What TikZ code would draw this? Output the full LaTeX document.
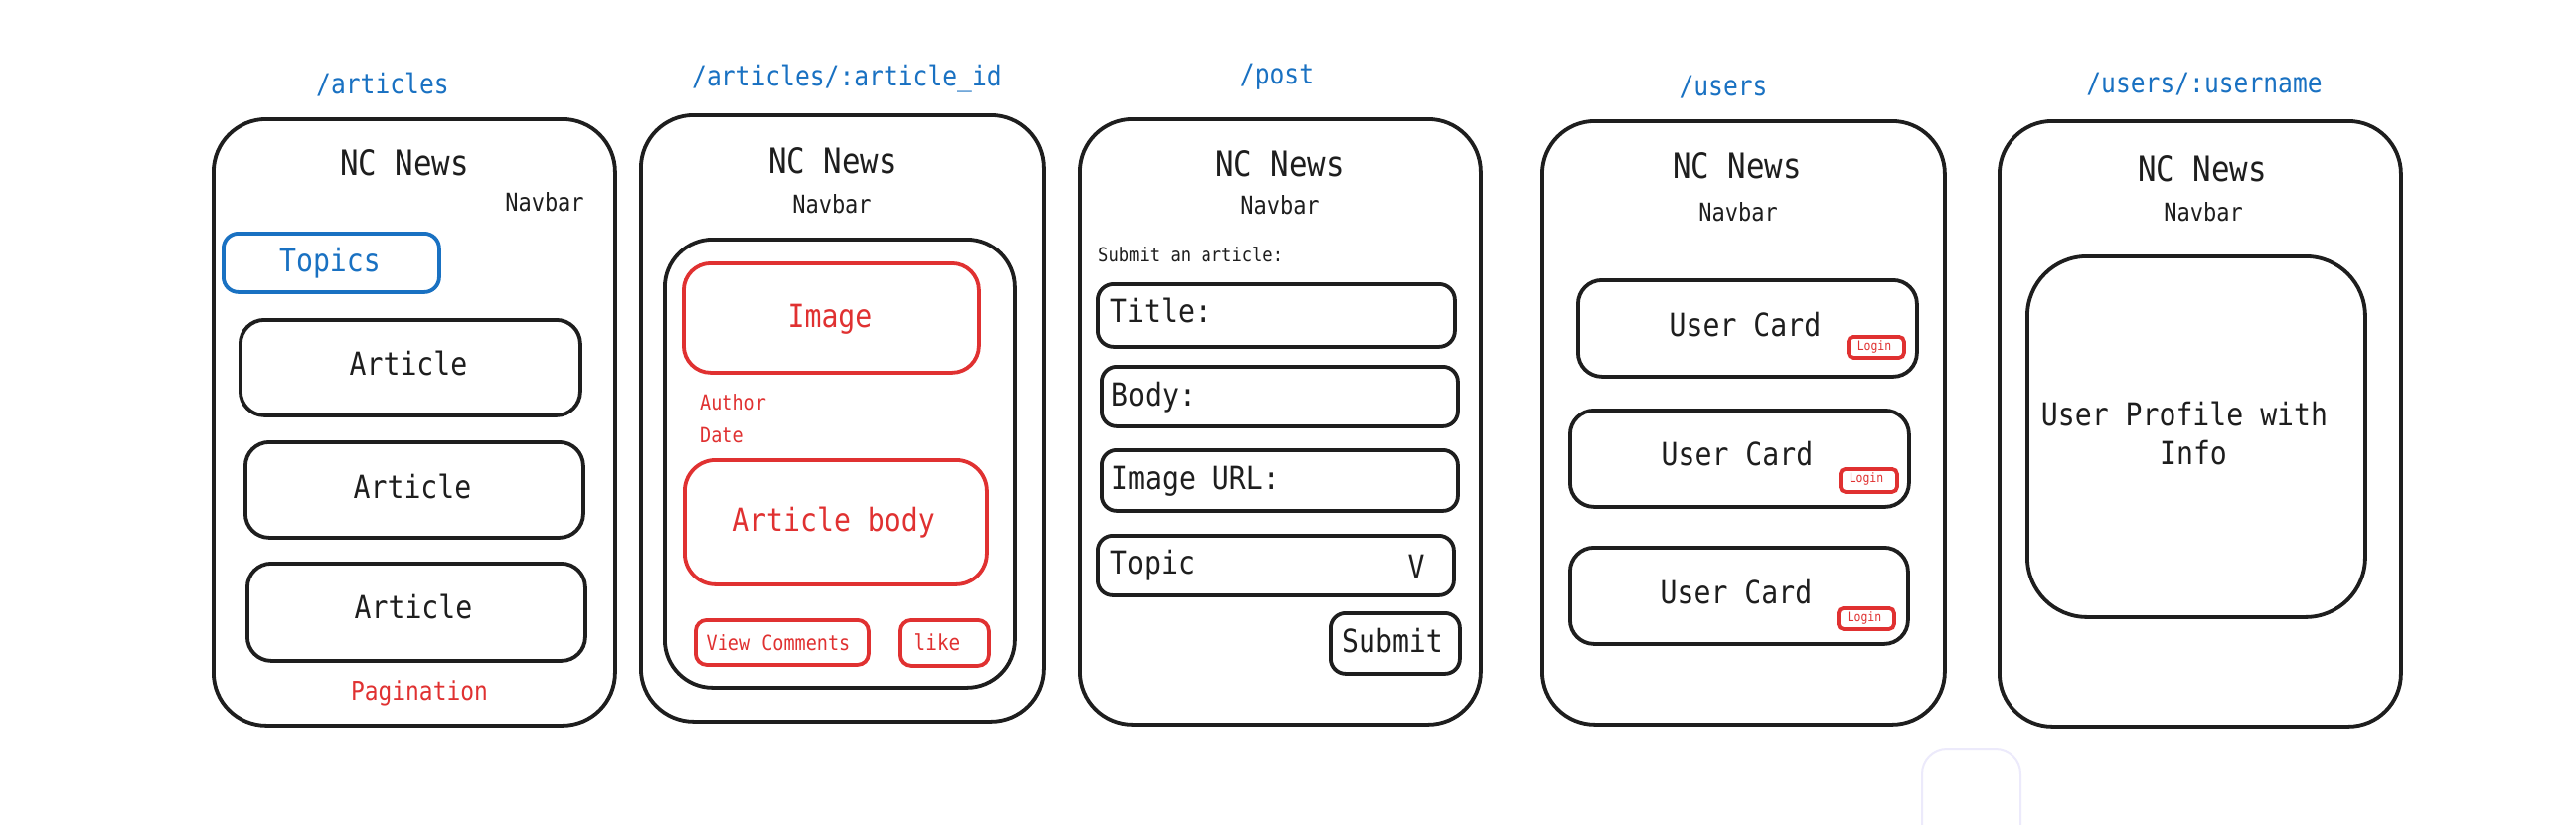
\documentclass[tikz,border=0pt]{standalone}
\usepackage{fontspec}
\setmonofont[FakeStretch=0.88]{DejaVu Sans Mono}
\definecolor{ink}{HTML}{1E1E1E}
\definecolor{exred}{HTML}{E03131}
\definecolor{exblue}{HTML}{1971C2}
\definecolor{ghost}{HTML}{ECEAFB}
\tikzset{
  wb/.style={draw=ink, line width=3.8pt, inner sep=0pt, anchor=north west},
  tx/.style={inner sep=0pt, anchor=base, text=ink, font=\ttfamily\fontsize{#1}{#1}\selectfont},
  txl/.style={inner sep=0pt, anchor=base west, text=ink, font=\ttfamily\fontsize{#1}{#1}\selectfont},
  route/.style={tx=28, text=exblue},
}
% \wbox[colour]{name}{x1}{y1}{x2}{y2}{radius}
\newcommand\wbox[7][ink]{\node[wb, draw=#1, rounded corners=#7pt, minimum width={#5pt-#3pt}, minimum height={#6pt-#4pt}] (#2) at (#3,#4) {};}
\begin{document}
\begin{tikzpicture}[x=1pt,y=-1pt]
\useasboundingbox (0,0) rectangle (2592,830);
\fill[white] (0,0) rectangle (2592,830);

% route titles
\node[route] (r1) at (385,94) {/articles};
\node[route] (r2) at (852,86) {/articles/:article\_id};
\node[route] (r3) at (1285,84) {/post};
\node[route] (r4) at (1734,96) {/users};
\node[route] (r5) at (2218,93) {/users/:username};

% ---------- panel 1: /articles
\wbox{p1}{213}{118}{617}{728}{53}
\node[tx=35] (p1title) at (407,176) {NC News};
\node[tx=25] (p1nav) at (548,212) {Navbar};
\wbox[exblue]{p1topics}{223}{233}{440}{292}{15}
\node[tx=32, text=exblue] (p1topicst) at (332,273) {Topics};
\wbox{p1a1}{240}{320}{582}{416}{24}
\node[tx=32] (p1a1t) at (411,377) {Article};
\wbox{p1a2}{245}{443}{585}{539}{24}
\node[tx=32] (p1a2t) at (415,501) {Article};
\wbox{p1a3}{247}{565}{587}{663}{24}
\node[tx=32] (p1a3t) at (416,622) {Article};
\node[tx=26, text=exred] (p1pag) at (422,704) {Pagination};

% ---------- panel 2: /articles/:article_id
\wbox{p2}{643}{114}{1048}{724}{53}
\node[tx=35] (p2title) at (838,174) {NC News};
\node[tx=25] (p2nav) at (837,214) {Navbar};
\wbox{p2in}{667}{239}{1019}{690}{48}
\wbox[exred]{p2img}{686}{263}{983}{373}{27}
\node[tx=32, text=exred] (p2imgt) at (835,329) {Image};
\node[txl=21, text=exred] (p2auth) at (704,412) {Author};
\node[txl=21, text=exred] (p2date) at (704,445) {Date};
\wbox[exred]{p2body}{687}{461}{991}{586}{31}
\node[tx=32, text=exred] (p2bodyt) at (839,534) {Article body};
\wbox[exred]{p2vc}{698}{622}{872}{667}{11}
\node[tx=21, text=exred] (p2vct) at (783,654) {View Comments};
\wbox[exred]{p2like}{904}{622}{993}{668}{11}
\node[tx=22, text=exred] (p2liket) at (943,654) {like};

% ---------- panel 3: /post
\wbox{p3}{1085}{118}{1488}{727}{53}
\node[tx=35] (p3title) at (1288,177) {NC News};
\node[tx=25] (p3nav) at (1288,215) {Navbar};
\node[txl=19.5, text=ink] (p3sub) at (1105,263) {Submit an article:};
\wbox{p3f1}{1103}{284}{1462}{347}{16}
\node[txl=32] (p3f1t) at (1117,324) {Title:};
\wbox{p3f2}{1107}{367}{1465}{427}{15}
\node[txl=32] (p3f2t) at (1118,408) {Body:};
\wbox{p3f3}{1107}{451}{1465}{512}{15}
\node[txl=32] (p3f3t) at (1118,492) {Image URL:};
\wbox{p3f4}{1103}{537}{1461}{597}{15}
\node[txl=32] (p3f4t) at (1117,577) {Topic};
\node[tx=32] (p3v) at (1425,581) {V};
\wbox{p3btn}{1337}{615}{1467}{676}{15}
\node[tx=32] (p3btnt) at (1401,656) {Submit};

% ---------- panel 4: /users
\wbox{p4}{1550}{120}{1955}{727}{53}
\node[tx=35] (p4title) at (1748,179) {NC News};
\node[tx=25] (p4nav) at (1749,222) {Navbar};
\wbox{p4c1}{1586}{280}{1927}{377}{24}
\node[tx=32] (p4c1t) at (1756,338) {User Card};
\wbox[exred]{p4l1}{1858}{337}{1914}{358}{5}
\node[tx=13, text=exred] (p4l1t) at (1886,352) {Login};
\wbox{p4c2}{1578}{411}{1919}{508}{24}
\node[tx=32] (p4c2t) at (1748,468) {User Card};
\wbox[exred]{p4l2}{1850}{470}{1907}{493}{5}
\node[tx=13, text=exred] (p4l2t) at (1878,485) {Login};
\wbox{p4c3}{1578}{549}{1918}{646}{24}
\node[tx=32] (p4c3t) at (1747,607) {User Card};
\wbox[exred]{p4l3}{1848}{610}{1904}{631}{5}
\node[tx=13, text=exred] (p4l3t) at (1876,625) {Login};

% ---------- panel 5: /users/:username
\wbox{p5}{2010}{120}{2414}{729}{53}
\node[tx=35] (p5title) at (2216,182) {NC News};
\node[tx=25] (p5nav) at (2217,222) {Navbar};
\wbox{p5in}{2038}{256}{2378}{619}{60}
\node[tx=32] (p5l1) at (2198,428) {User Profile with};
\node[tx=32] (p5l2) at (2207,467) {Info};

% faint leftover shape at the bottom
\node[wb, draw=ghost, line width=2pt, rounded corners=25pt, minimum width=99pt, minimum height=110pt] (ghostbox) at (1933,753) {};
\end{tikzpicture}
\end{document}
